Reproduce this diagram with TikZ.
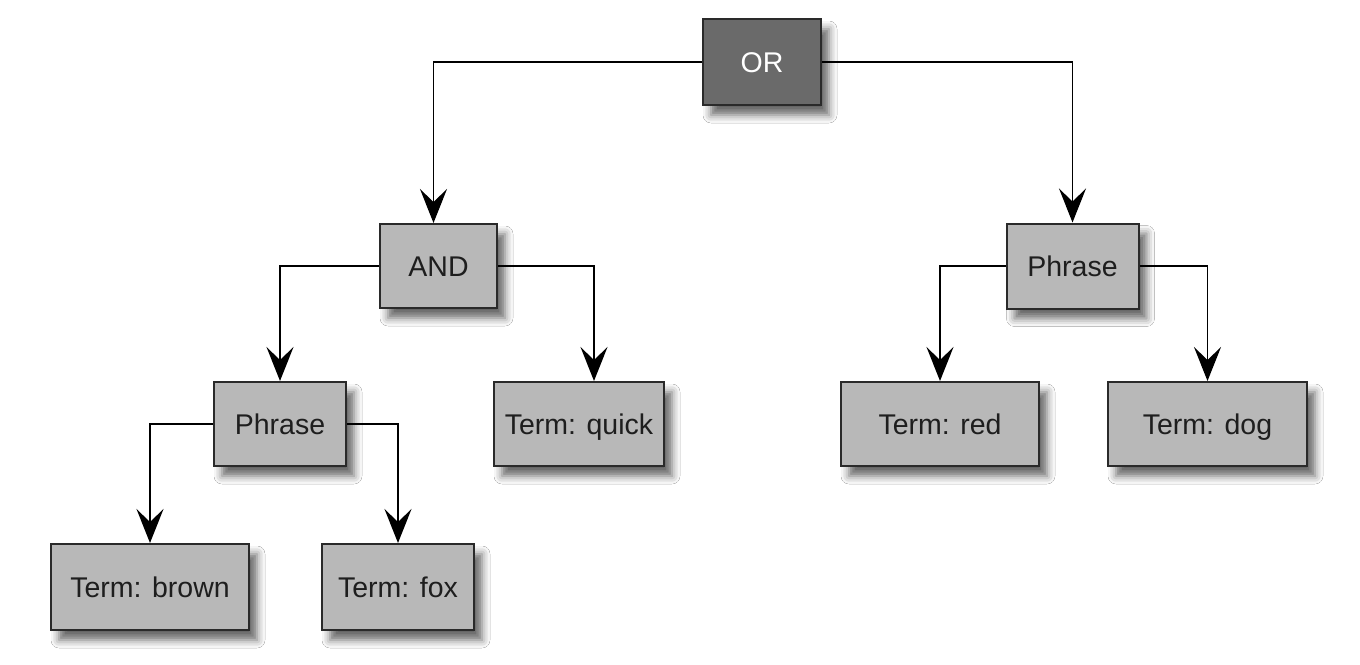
\documentclass[tikz,border=0pt]{standalone}
\usepackage{fontspec}
\setmainfont{Liberation Sans}
\usetikzlibrary{arrows.meta,shadows.blur}
\definecolor{boxfill}{HTML}{B8B8B8}
\definecolor{orfill}{HTML}{6A6A6A}
\definecolor{edge}{HTML}{2A2A2A}
\definecolor{txt}{HTML}{1E1E1E}
\begin{document}
\begin{tikzpicture}[x=1pt,y=-1pt,
  box/.style={draw=edge, line width=2pt, fill=boxfill, text=txt,
    font=\fontsize{28.5}{32}\selectfont, inner sep=0pt,
    text height=20.5pt, text depth=0pt,
    blur shadow={shadow xshift=8pt, shadow yshift=-10pt, shadow blur radius=8pt, shadow opacity=60}},
  dark/.style={box, fill=orfill, text=white},
  conn/.style={draw=black, line width=1.6pt,
    -{Stealth[length=34pt, width=27pt, inset=13pt]}}]
\useasboundingbox[fill=white] (0,0) rectangle (1360,664);
\node[dark, minimum width=118pt, minimum height=86pt] (OR) at (762,62) {OR};
\node[box, minimum width=117pt, minimum height=84pt] (AND) at (438.5,266) {AND};
\node[box, minimum width=132pt, minimum height=85pt] (PhR) at (1072.5,266) {Phrase};
\node[box, minimum width=132pt, minimum height=84pt] (PhL) at (280,424) {Phrase};
\node[box, minimum width=170pt, minimum height=84pt] (quick) at (579,424) {Term: quick};
\node[box, minimum width=198pt, minimum height=84pt] (red) at (940,424) {Term: red};
\node[box, minimum width=199pt, minimum height=84pt] (dog) at (1207.5,424) {Term: dog};
\node[box, minimum width=198pt, minimum height=86pt] (brown) at (150,587) {Term: brown};
\node[box, minimum width=152pt, minimum height=86pt] (fox) at (398,587) {Term: fox};
\draw[conn] (OR.west) -| ([xshift=-5pt]AND.north);
\draw[conn] (OR.east) -| (PhR.north);
\draw[conn] (AND.west) -| (PhL.north);
\draw[conn] (AND.east) -| ([xshift=15pt]quick.north);
\draw[conn] (PhR.west) -| (red.north);
\draw[conn] (PhR.east) -| (dog.north);
\draw[conn] (PhL.west) -| (brown.north);
\draw[conn] (PhL.east) -| (fox.north);
\end{tikzpicture}
\end{document}
